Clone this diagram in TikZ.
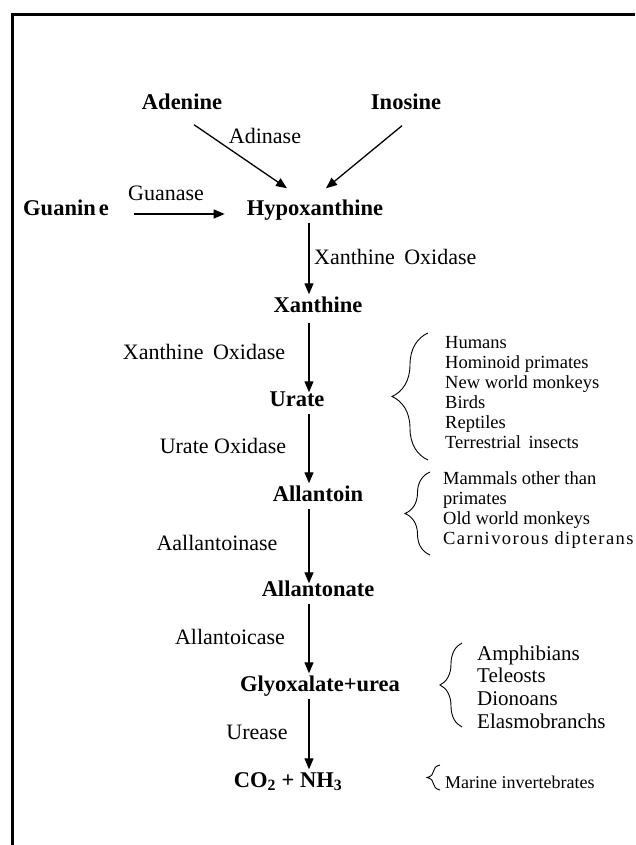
\documentclass[tikz,border=0pt]{standalone}
\usepackage{fontspec}
\setmainfont{Liberation Serif}
\usetikzlibrary{arrows.meta,calc,decorations.pathreplacing}

\begin{document}
\begin{tikzpicture}[x=1pt,y=-1pt,
  chem/.style={font=\fontsize{22.5}{27}\selectfont\bfseries, inner sep=2pt, text height=16pt, text depth=5pt},
  enz/.style={font=\fontsize{22}{26}\selectfont, inner sep=2pt},
  species/.style={anchor=west, align=left, inner sep=0pt, font=\fontsize{18.5}{20}\selectfont},
  arr/.style={-{Triangle[length=11pt,width=9pt]}, line width=1.3pt},
  brc/.style={decorate, decoration={brace, amplitude=#1}, line width=0.9pt}]
\useasboundingbox (0,0) rectangle (635,845);
\draw [line width=3pt] (635,15) -- (12,15) -- (12,845);
\node [chem] (adenine) at (182,104) {Adenine}; \node [chem] (inosine) at (406,104) {Inosine};
\node [enz] (adinase) at (265,136) {Adinase};
\node [chem] (guanine) at (66,210) {Guanin\kern3pt e}; \node [enz] (guanase) at (166,193) {Guanase};
\node [chem] (hypo) at (315,210) {Hypoxanthine};
\node [enz, anchor=west] (xo1) at (312,257) {Xanthine\kern4pt{} Oxidase};
\node [chem] (xan) at (318,307) {Xanthine}; \node [enz] (xo2) at (204,352) {Xanthine\kern4pt{} Oxidase};
\node [chem] (urate) at (297,401) {Urate}; \node [enz] (uo) at (223,446) {Urate Oxidase};
\node [chem] (allantoin) at (318,496) {Allantoin}; \node [enz] (aall) at (217,543) {Aallantoinase};
\node [chem] (allantonate) at (318,591) {Allantonate}; \node [enz] (allantoicase) at (230,637) {Allantoicase};
\node [chem] (glyox) at (320,686) {Glyoxalate+urea}; \node [enz] (urease) at (257,732) {Urease};
\node [chem] (co2) at (288,782) {CO\textsubscript{2} + NH\textsubscript{3}};
\coordinate (spine) at (309,0);
\draw [arr] ($(adenine.south)+(12,8)$) -- ($(hypo.north)+(-28,-9)$);
\draw [arr] ($(inosine.south)+(-4,9)$) -- ($(hypo.north)+(11,-9)$);
\draw [arr, shorten <=23pt, shorten >=20pt] ([yshift=-4pt]guanine.east) -- ([yshift=-4pt]hypo.west);
\draw [arr] (hypo.south -| spine) -- (xan.north -| spine);
\draw [arr, shorten <=3pt, shorten >=-4pt] (xan.south -| spine) -- (urate.north -| spine);
\draw [arr] (urate.south -| spine) -- (allantoin.north -| spine);
\draw [arr, shorten >=-5pt] (allantoin.south -| spine) -- (allantonate.north -| spine);
\draw [arr] (allantonate.south -| spine) -- (glyox.north -| spine);
\draw [arr] (glyox.south -| spine) -- (co2.north -| spine);
\node [species] (uricotelic) at (445,392.5) {Humans\\Hominoid primates\\New world monkeys\\Birds\\Reptiles\\Terrestrial\kern3pt{} insects};
\node [species] (allantoic) at (443,510) {Mammals other than\\primates\\Old world monkeys\\{\addfontfeature{LetterSpace=7.5}Carnivorous dipterans}};
\node [species, font=\fontsize{21}{22.7}\selectfont] (ureotelic) at (477,687) {Amphibians\\Teleosts\\Dionoans\\Elasmobranchs};
\node [species, font=\fontsize{18}{20}\selectfont] (ammonotelic) at (445,782) {Marine invertebrates};
\draw [brc=36] (428,460) -- (428,333); \draw [brc=25] (430,555) -- (430,472);
\draw [brc=22] (462,727) -- (462,643); \draw [brc=13] (440,790) -- (440,765);
\end{tikzpicture}
\end{document}
